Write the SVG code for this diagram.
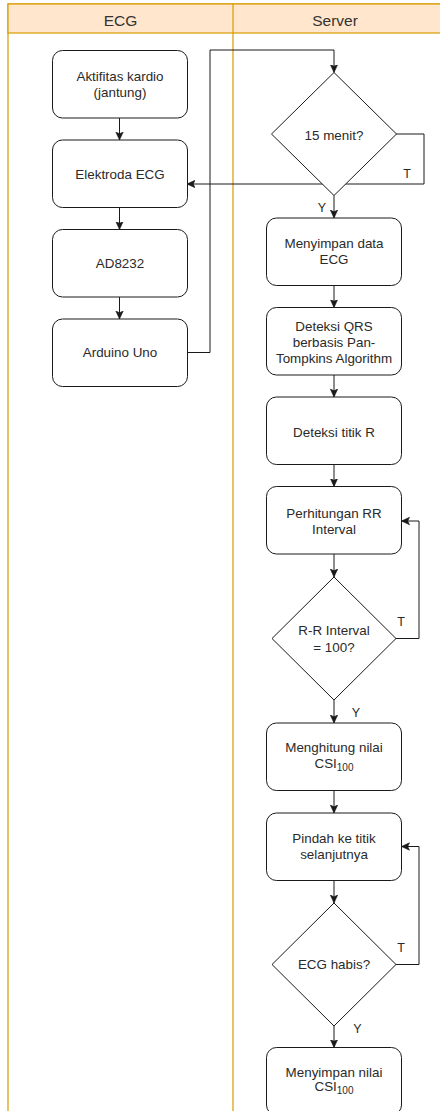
<svg xmlns="http://www.w3.org/2000/svg" width="440" height="1111" viewBox="0 0 440 1111">
  <style>
    .lane { fill: #ffffff; stroke: #d79b00; stroke-width: 1.2; }
    .head { fill: #ffe6cc; stroke: #d79b00; stroke-width: 1.2; }
    .box { fill: #ffffff; stroke: #1a1a1a; stroke-width: 1; }
    .edge { fill: none; stroke: #1a1a1a; stroke-width: 1; }
    text { font-family: "Liberation Sans", Arial, Helvetica, sans-serif; fill: #2a2a2a; }
    .t { font-size: 13.4px; text-anchor: middle; }
    .h { font-size: 15.5px; text-anchor: middle; fill: #333333; }
    .lbl { font-size: 12.5px; text-anchor: middle; }
    .sub { font-size: 10px; }
  </style>
  <defs>
    <marker id="arrow" markerUnits="userSpaceOnUse" markerWidth="9" markerHeight="9" viewBox="0 0 9 9" refX="8" refY="4.5" orient="auto">
      <path d="M0,0.8 L8,4.5 L0,8.2 L1.8,4.5 Z" fill="#1a1a1a" stroke="#1a1a1a" stroke-width="0.6"/>
    </marker>
  </defs>

  <!-- swimlanes -->
  <g id="lanes">
    <rect class="lane" x="8" y="4" width="440" height="1120"/>
    <rect class="head" x="8" y="4" width="440" height="29"/>
    <line x1="233" y1="4" x2="233" y2="1124" stroke="#d79b00" stroke-width="1.2"/>
    <text class="h" x="120.5" y="25.5">ECG</text>
    <text class="h" x="335" y="25.5">Server</text>
  </g>

  <!-- connectors -->
  <g id="connectors">
    <line class="edge" x1="119.5" y1="118" x2="119.5" y2="140" marker-end="url(#arrow)"/>
    <line class="edge" x1="119.5" y1="207.5" x2="119.5" y2="229.5" marker-end="url(#arrow)"/>
    <line class="edge" x1="119.5" y1="297" x2="119.5" y2="319" marker-end="url(#arrow)"/>
    <polyline class="edge" points="187,352.5 210,352.5 210,50 334,50 334,72.5" marker-end="url(#arrow)"/>
    <polyline class="edge" points="396,134 424,134 424,184 187,184" marker-end="url(#arrow)"/>
    <line class="edge" x1="334" y1="195.5" x2="334" y2="218" marker-end="url(#arrow)"/>
    <line class="edge" x1="334" y1="285.5" x2="334" y2="307.5" marker-end="url(#arrow)"/>
    <line class="edge" x1="334" y1="375" x2="334" y2="397" marker-end="url(#arrow)"/>
    <line class="edge" x1="334" y1="464.5" x2="334" y2="486.5" marker-end="url(#arrow)"/>
    <line class="edge" x1="334" y1="554" x2="334" y2="577" marker-end="url(#arrow)"/>
    <polyline class="edge" points="396,638.5 419,638.5 419,521 401.5,521" marker-end="url(#arrow)"/>
    <line class="edge" x1="334" y1="700" x2="334" y2="723" marker-end="url(#arrow)"/>
    <line class="edge" x1="334" y1="790.5" x2="334" y2="813" marker-end="url(#arrow)"/>
    <line class="edge" x1="334" y1="879.5" x2="334" y2="903" marker-end="url(#arrow)"/>
    <polyline class="edge" points="396,964.5 419,964.5 419,846.5 401.5,846.5" marker-end="url(#arrow)"/>
    <line class="edge" x1="334" y1="1026" x2="334" y2="1047.5" marker-end="url(#arrow)"/>
    <text class="lbl" x="407" y="178">T</text>
    <text class="lbl" x="322" y="211.5">Y</text>
    <text class="lbl" x="401" y="626">T</text>
    <text class="lbl" x="356" y="717">Y</text>
    <text class="lbl" x="401" y="952">T</text>
    <text class="lbl" x="357.5" y="1033">Y</text>
  </g>

  <!-- ECG lane nodes -->
  <g id="aktifitas">
    <rect class="box" x="52.5" y="50.5" width="135" height="67.5" rx="10"/>
    <text class="t" x="120" y="81">Aktifitas kardio</text>
    <text class="t" x="120" y="97">(jantung)</text>
  </g>
  <g id="elektroda">
    <rect class="box" x="52.5" y="140" width="135" height="67.5" rx="10"/>
    <text class="t" x="120" y="178.5">Elektroda ECG</text>
  </g>
  <g id="ad8232">
    <rect class="box" x="52.5" y="229.5" width="135" height="67.5" rx="10"/>
    <text class="t" x="120" y="268">AD8232</text>
  </g>
  <g id="arduino">
    <rect class="box" x="52.5" y="319" width="135" height="67.5" rx="10"/>
    <text class="t" x="120" y="357">Arduino Uno</text>
  </g>

  <!-- Server lane nodes -->
  <g id="cek-15-menit">
    <polygon class="box" points="334,72.5 396.5,134 334,195.5 271.5,134"/>
    <text class="t" x="334" y="139.5">15 menit?</text>
  </g>
  <g id="simpan-data">
    <rect class="box" x="266.5" y="218" width="135" height="67.5" rx="10"/>
    <text class="t" x="334" y="247.5">Menyimpan data</text>
    <text class="t" x="334" y="264">ECG</text>
  </g>
  <g id="deteksi-qrs">
    <rect class="box" x="266.5" y="307.5" width="135" height="67.5" rx="10"/>
    <text class="t" x="334" y="330.5">Deteksi QRS</text>
    <text class="t" x="334" y="346.5">berbasis Pan-</text>
    <text class="t" x="334" y="362.5">Tompkins Algorithm</text>
  </g>
  <g id="deteksi-r">
    <rect class="box" x="266.5" y="397" width="135" height="67.5" rx="10"/>
    <text class="t" x="334" y="436.5">Deteksi titik R</text>
  </g>
  <g id="hitung-rr">
    <rect class="box" x="266.5" y="486.5" width="135" height="67.5" rx="10"/>
    <text class="t" x="334" y="517.5">Perhitungan RR</text>
    <text class="t" x="334" y="533.5">Interval</text>
  </g>
  <g id="cek-rr">
    <polygon class="box" points="334,577 396,638.5 334,700 272,638.5"/>
    <text class="t" x="334" y="635">R-R Interval</text>
    <text class="t" x="334" y="651.5">= 100?</text>
  </g>
  <g id="hitung-csi">
    <rect class="box" x="266.5" y="723" width="135" height="67.5" rx="10"/>
    <text class="t" x="334" y="752">Menghitung nilai</text>
    <text class="t" x="334" y="767.5">CSI<tspan class="sub" dy="3">100</tspan></text>
  </g>
  <g id="pindah-titik">
    <rect class="box" x="266.5" y="813" width="135" height="67.5" rx="10"/>
    <text class="t" x="334" y="843">Pindah ke titik</text>
    <text class="t" x="334" y="858.5">selanjutnya</text>
  </g>
  <g id="cek-habis">
    <polygon class="box" points="334,903 396,964.5 334,1026 272,964.5"/>
    <text class="t" x="334" y="969">ECG habis?</text>
  </g>
  <g id="simpan-csi">
    <rect class="box" x="266.5" y="1047.5" width="135" height="67.5" rx="10"/>
    <text class="t" x="334" y="1076.5">Menyimpan nilai</text>
    <text class="t" x="334" y="1091">CSI<tspan class="sub" dy="3">100</tspan></text>
  </g>
</svg>
